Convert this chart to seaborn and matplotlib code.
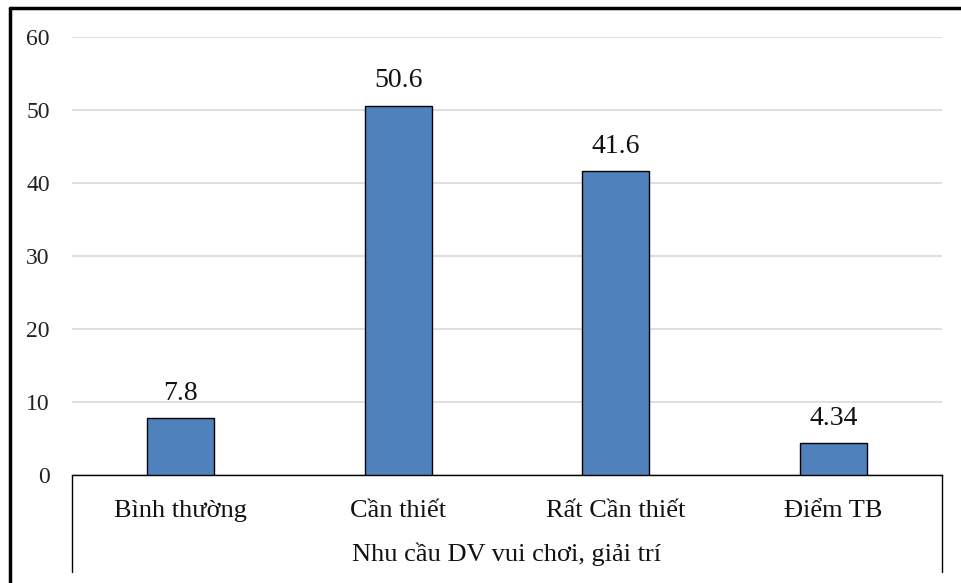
import matplotlib
matplotlib.use("Agg")
import matplotlib.pyplot as plt
from matplotlib.lines import Line2D
import seaborn as sns
import pandas as pd

categories = ["Bình thường", "Cần thiết", "Rất Cần thiết", "Điểm TB"]
values = [7.8, 50.6, 41.6, 4.34]
value_labels = ["7.8", "50.6", "41.6", "4.34"]
y_ticks = [0, 10, 20, 30, 40, 50, 60]
axis_title = "Nhu cầu DV vui chơi, giải trí"

sns.set_theme(style="white")
plt.rcParams["font.family"] = ["Liberation Serif", "DejaVu Serif"]

W, H = 961, 583
fig = plt.figure(figsize=(W / 100, H / 100), dpi=100)
fig.patch.set_facecolor("white")

left, right, top, bottom = 72, 942, 37, 475
ax = fig.add_axes([left / W, 1 - bottom / H, (right - left) / W, (bottom - top) / H])

df = pd.DataFrame({"cat": categories, "val": values})
sns.barplot(data=df, x="cat", y="val", ax=ax, color="#4F81BD", saturation=1,
            width=0.31, edgecolor="black", linewidth=1.0, zorder=3)

ax.set_ylim(0, 60)
ax.set_xlim(-0.5, len(categories) - 0.5)
ax.set_yticks(y_ticks)
ax.set_yticklabels([str(t) for t in y_ticks], fontsize=17, color="#222222")
ax.yaxis.grid(True, color="#d9d9d9", linewidth=1.2, zorder=0)
ax.set_axisbelow(True)
for s in ["left", "right", "top"]:
    ax.spines[s].set_visible(False)
ax.spines["bottom"].set_color("black")
ax.spines["bottom"].set_linewidth(1.0)
ax.tick_params(axis="y", length=0, pad=16)
ax.tick_params(axis="x", length=0, pad=18)
ax.set_xticks(range(len(categories)))
ax.set_xticklabels(categories, fontsize=19, color="#111111")
ax.set_xlabel("")
ax.set_ylabel("")

for i, (v, lab) in enumerate(zip(values, value_labels)):
    ax.annotate(lab, (i, v), xytext=(0, 9), textcoords="offset points",
                ha="center", va="bottom", fontsize=20, color="#111111")

# category table frame beneath the axis
frame_bottom = 572
for xp in (left, right):
    fig.add_artist(Line2D([xp / W, xp / W], [1 - bottom / H, 1 - frame_bottom / H],
                          color="black", linewidth=1.0))

fig.text((left + right) / 2 / W, 1 - 554 / H, axis_title, ha="center", va="center",
         fontsize=19, color="#111111")

# outer chart border
fig.add_artist(Line2D([10 / W, 10 / W], [1 - 8 / H, 0], color="black", linewidth=2.5))
fig.add_artist(Line2D([10 / W, 1], [1 - 8 / H, 1 - 8 / H], color="black", linewidth=2.5))

fig.savefig("out.png", dpi=100)
